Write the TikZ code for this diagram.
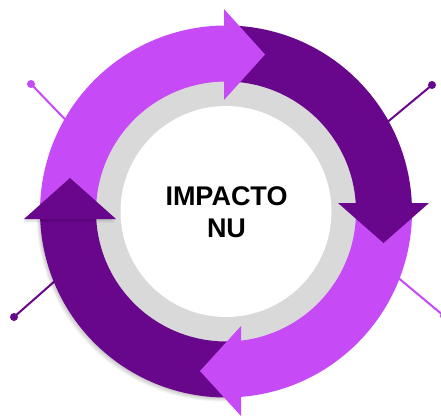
\documentclass[tikz,border=0pt]{standalone}
\usepackage{fontspec}
\setmainfont{Liberation Sans}
\definecolor{lightp}{HTML}{C64AF6}
\definecolor{darkp}{HTML}{68068C}
\definecolor{ringgray}{HTML}{D9D9D9}
\begin{document}
\begin{tikzpicture}[x=1pt,y=1pt,yscale=-1,
  connector/.style={line width=2pt},
  dotnode/.style={circle,inner sep=0pt,minimum size=8pt},
  title/.style={font=\bfseries\fontsize{27}{32}\selectfont,anchor=base,inner sep=0pt}]
\useasboundingbox (0,0) rectangle (441,415);
\clip (0,0) rectangle (441,415);
% connectors with dots
\node[dotnode,fill=lightp] (dTL) at (31,84) {};
\coordinate (eTL) at (82,137);
\node[dotnode,fill=darkp] (dTR) at (432,85) {};
\coordinate (eTR) at (373,134);
\node[dotnode,fill=darkp] (dBL) at (14,317) {};
\coordinate (eBL) at (72,266);
\node[dotnode,fill=lightp] (dBR) at (444,316) {};
\coordinate (eBR) at (384,266);
\draw[connector,lightp] (dTL.center) -- (eTL);
\draw[connector,darkp] (dTR.center) -- (eTR);
\draw[connector,darkp] (dBL.center) -- (eBL);
\draw[connector,lightp] (dBR.center) -- (eBR);
% rings
\begin{scope}[shift={(226,211.5)}]
  \fill[ringgray] (0,0) circle[radius=131];
  \fill[white] (0,0) circle[radius=105.5];
  % soft shadow of dark lower-left segment
  \foreach \o in {1,2,3,4}{
    \fill[black,opacity=0.05,shift={(-0.8*\o,1.0*\o)}] (86:186) arc[start angle=86,end angle=178.5,radius=186] -- (178.5:130) arc[start angle=178.5,end angle=86,radius=130] -- cycle;
  }
  \fill[darkp] (86:186) arc[start angle=86,end angle=178.5,radius=186] -- (178.5:130) arc[start angle=178.5,end angle=86,radius=130] -- cycle;
  \fill[lightp] (178.5:186) arc[start angle=178.5,end angle=271,radius=186] -- (271:130) arc[start angle=271,end angle=178.5,radius=130] -- cycle;
  \fill[darkp] (271:186) arc[start angle=271,end angle=358.5,radius=186] -- (358.5:130) arc[start angle=358.5,end angle=271,radius=130] -- cycle;
  \fill[lightp] (358.5:186) arc[start angle=358.5,end angle=446,radius=186] -- (446:130) arc[start angle=446,end angle=358.5,radius=130] -- cycle;
\end{scope}
% arrow heads
\fill[lightp] (224,9) -- (265,54.5) -- (224,100) -- cycle;
\fill[darkp] (338,203) -- (383.5,243) -- (429,203) -- cycle;
\fill[lightp] (241,326) -- (200,371) -- (241,416) -- cycle;
\foreach \o in {1,2,3}{
  \fill[black,opacity=0.05,shift={(-0.5*\o,1.2*\o)}] (24,219) -- (70,178) -- (116,219) -- cycle;
}
\fill[darkp] (24,219) -- (70,178) -- (116,219) -- cycle;
% text
\node[title] (t1) at (226.5,205) {IMPACTO};
\node[title] (t2) at (226.5,237) {NU};
\end{tikzpicture}
\end{document}
